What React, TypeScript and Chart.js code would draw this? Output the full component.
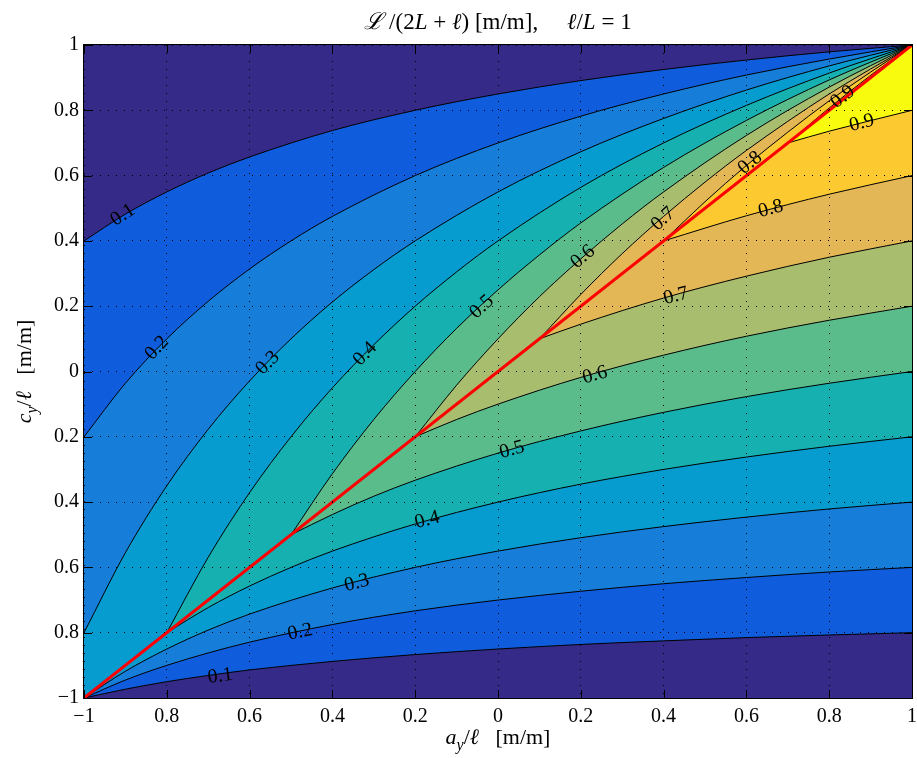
import React, { useEffect, useRef } from 'react';
import { Chart, registerables } from 'chart.js';

Chart.register(...registerables);

const FONT = "'Liberation Serif', 'Times New Roman', 'DejaVu Serif', serif";

// contour levels and band colours (band 0 = below 0.1, band 9 = above 0.9)
const levels = [0.1, 0.2, 0.3, 0.4, 0.5, 0.6, 0.7, 0.8, 0.9];
const levelLabels = ['0.1', '0.2', '0.3', '0.4', '0.5', '0.6', '0.7', '0.8', '0.9'];
const bandColors = ['#352a87', '#0f5cdd', '#167dd9', '#069ccf', '#16b0b0', '#5abb8b', '#a9bd6e', '#e3b755', '#fcc931', '#f9fb0e'];

// tick labels as printed on the reference
const xTickLabels = ['\u22121', '0.8', '0.6', '0.4', '0.2', '0', '0.2', '0.4', '0.6', '0.8', '1'];
const yTickLabels = ['\u22121', '0.8', '0.6', '0.4', '0.2', '0', '0.2', '0.4', '0.6', '0.8', '1'];

// contour lines above the red diagonal  [a_y/l, c_y/l]
const upper01 = [[-1, 0.4], [-0.9, 0.482], [-0.8, 0.55], [-0.7, 0.608], [-0.6, 0.657], [-0.4, 0.738], [-0.2, 0.8], [0, 0.85], [0.2, 0.891], [0.4, 0.925], [0.6, 0.954], [0.8, 0.979], [1, 1]];
const upper02 = [[-1, -0.2], [-0.9, -0.036], [-0.8, 0.1], [-0.7, 0.215], [-0.6, 0.314], [-0.5, 0.4], [-0.4, 0.475], [-0.2, 0.6], [0, 0.7], [0.2, 0.782], [0.4, 0.85], [0.6, 0.908], [0.8, 0.957], [1, 1]];
const upper03 = [[-1, -0.8], [-0.9, -0.555], [-0.8, -0.35], [-0.7, -0.177], [-0.6, -0.029], [-0.5, 0.1], [-0.4, 0.213], [-0.3, 0.312], [-0.2, 0.4], [0, 0.55], [0.2, 0.673], [0.4, 0.775], [0.6, 0.862], [0.8, 0.936], [1, 1]];
const upper04 = [[-0.8, -0.8], [-0.7, -0.569], [-0.6, -0.371], [-0.5, -0.2], [-0.4, -0.05], [-0.3, 0.082], [-0.2, 0.2], [-0.1, 0.305], [0, 0.4], [0.2, 0.564], [0.4, 0.7], [0.6, 0.815], [0.8, 0.914], [1, 1]];
const upper05 = [[-0.5, -0.5], [-0.4, -0.313], [-0.3, -0.147], [-0.2, 0], [-0.1, 0.132], [0, 0.25], [0.1, 0.357], [0.2, 0.455], [0.4, 0.625], [0.6, 0.769], [0.8, 0.893], [1, 1]];
const upper06 = [[-0.2, -0.2], [-0.1, -0.042], [0, 0.1], [0.1, 0.229], [0.2, 0.345], [0.3, 0.452], [0.4, 0.55], [0.6, 0.723], [0.8, 0.871], [1, 1]];
const upper07 = [[0.1, 0.1], [0.2, 0.236], [0.3, 0.361], [0.4, 0.475], [0.5, 0.58], [0.6, 0.677], [0.8, 0.85], [1, 1]];
const upper08 = [[0.4, 0.4], [0.5, 0.52], [0.6, 0.631], [0.7, 0.733], [0.8, 0.829], [0.9, 0.917], [1, 1]];
const upper09 = [[0.7, 0.7], [0.8, 0.807], [0.9, 0.907], [1, 1]];

// contour lines below the red diagonal
const lower01 = [[-1, -1], [-0.9, -0.973], [-0.8, -0.95], [-0.7, -0.931], [-0.6, -0.914], [-0.4, -0.888], [-0.2, -0.867], [0, -0.85], [0.2, -0.836], [0.4, -0.825], [0.6, -0.815], [0.8, -0.807], [1, -0.8]];
const lower02 = [[-1, -1], [-0.9, -0.945], [-0.8, -0.9], [-0.7, -0.862], [-0.6, -0.829], [-0.4, -0.775], [-0.2, -0.733], [0, -0.7], [0.2, -0.673], [0.4, -0.65], [0.6, -0.631], [0.8, -0.614], [1, -0.6]];
const lower03 = [[-1, -1], [-0.9, -0.918], [-0.8, -0.85], [-0.7, -0.792], [-0.6, -0.743], [-0.4, -0.663], [-0.2, -0.6], [0, -0.55], [0.2, -0.509], [0.4, -0.475], [0.6, -0.446], [0.8, -0.421], [1, -0.4]];
const lower04 = [[-0.8, -0.8], [-0.7, -0.723], [-0.6, -0.657], [-0.5, -0.6], [-0.4, -0.55], [-0.2, -0.467], [0, -0.4], [0.2, -0.345], [0.4, -0.3], [0.6, -0.262], [0.8, -0.229], [1, -0.2]];
const lower05 = [[-0.5, -0.5], [-0.4, -0.438], [-0.3, -0.382], [-0.2, -0.333], [0, -0.25], [0.2, -0.182], [0.4, -0.125], [0.6, -0.077], [0.8, -0.036], [1, 0]];
const lower06 = [[-0.2, -0.2], [-0.1, -0.147], [0, -0.1], [0.2, -0.018], [0.4, 0.05], [0.6, 0.108], [0.8, 0.157], [1, 0.2]];
const lower07 = [[0.1, 0.1], [0.2, 0.145], [0.4, 0.225], [0.6, 0.292], [0.8, 0.35], [1, 0.4]];
const lower08 = [[0.4, 0.4], [0.6, 0.477], [0.8, 0.543], [1, 0.6]];
const lower09 = [[0.7, 0.7], [0.8, 0.736], [1, 0.8]];

const diagonal = [[-1, -1], [1, 1]];

// contour label positions
const upperLabelX = [-0.906, -0.824, -0.556, -0.321, -0.039, 0.205, 0.399, 0.609, 0.833];
const upperLabelY = [0.479, 0.072, 0.026, 0.054, 0.198, 0.351, 0.467, 0.639, 0.841];
const lowerLabelX = [-0.671, -0.478, -0.341, -0.171, 0.034, 0.234, 0.43, 0.659, 0.879];
const lowerLabelY = [-0.933, -0.798, -0.648, -0.455, -0.24, -0.011, 0.231, 0.498, 0.761];

const upperCurves = [upper01, upper02, upper03, upper04, upper05, upper06, upper07, upper08, upper09];
const lowerCurves = [lower01, lower02, lower03, lower04, lower05, lower06, lower07, lower08, lower09];

type Seg = { t: string; it?: boolean; sub?: boolean };

const titleSegs: Seg[] = [
  { t: '\u2112', it: true }, { t: ' /(2' }, { t: 'L', it: true }, { t: ' + ' }, { t: '\u2113', it: true },
  { t: ') [m/m],     ' }, { t: '\u2113', it: true }, { t: '/' }, { t: 'L', it: true }, { t: ' = 1' },
];
const xTitleSegs: Seg[] = [{ t: 'a', it: true }, { t: 'y', it: true, sub: true }, { t: '/' }, { t: '\u2113', it: true }, { t: '   [m/m]' }];
const yTitleSegs: Seg[] = [{ t: 'c', it: true }, { t: 'y', it: true, sub: true }, { t: '/' }, { t: '\u2113', it: true }, { t: '   [m/m]' }];

function drawRich(ctx: CanvasRenderingContext2D, segs: Seg[], x: number, y: number, size: number) {
  const fontFor = (s: Seg) => `${s.it ? 'italic ' : ''}${s.sub ? Math.round(size * 0.72) : size}px ${FONT}`;
  let total = 0;
  for (const s of segs) {
    ctx.font = fontFor(s);
    total += ctx.measureText(s.t).width;
  }
  let cx = x - total / 2;
  ctx.textAlign = 'left';
  ctx.textBaseline = 'alphabetic';
  for (const s of segs) {
    ctx.font = fontFor(s);
    ctx.fillText(s.t, cx, y + (s.sub ? size * 0.28 : 0));
    cx += ctx.measureText(s.t).width;
  }
}

const overlayPlugin = {
  id: 'overlay',
  afterDatasetsDraw(chart: any) {
    const ctx: CanvasRenderingContext2D = chart.ctx;
    const xs = chart.scales.x;
    const ys = chart.scales.y;
    ctx.save();
    ctx.fillStyle = '#000';
    ctx.font = `20px ${FONT}`;
    ctx.textAlign = 'center';
    ctx.textBaseline = 'middle';
    const drawLabel = (curve: number[][], lx: number, ly: number, text: string) => {
      const px = xs.getPixelForValue(lx);
      const py = ys.getPixelForValue(ly);
      let i = 0;
      while (i < curve.length - 2 && curve[i + 1][0] < lx) i++;
      const ax = xs.getPixelForValue(curve[i][0]);
      const ay = ys.getPixelForValue(curve[i][1]);
      const bx = xs.getPixelForValue(curve[i + 1][0]);
      const by = ys.getPixelForValue(curve[i + 1][1]);
      const ang = Math.atan2(by - ay, bx - ax);
      ctx.save();
      ctx.translate(px, py);
      ctx.rotate(ang);
      ctx.fillText(text, 0, 0);
      ctx.restore();
    };
    for (let k = 0; k < levels.length; k++) {
      drawLabel(upperCurves[k], upperLabelX[k], upperLabelY[k], levelLabels[k]);
      drawLabel(lowerCurves[k], lowerLabelX[k], lowerLabelY[k], levelLabels[k]);
    }
    ctx.restore();
  },
  afterDraw(chart: any) {
    const ctx: CanvasRenderingContext2D = chart.ctx;
    const { left, right, top, bottom } = chart.chartArea;
    const xs = chart.scales.x;
    const ys = chart.scales.y;
    ctx.save();
    ctx.strokeStyle = '#000';
    ctx.lineWidth = 1;
    ctx.strokeRect(Math.round(left) - 0.5, Math.round(top) - 0.5, Math.round(right - left) + 1, Math.round(bottom - top) + 1);
    const tl = 8;
    ctx.beginPath();
    for (const t of xs.ticks) {
      const px = Math.round(xs.getPixelForValue(t.value)) + 0.5;
      ctx.moveTo(px, bottom);
      ctx.lineTo(px, bottom - tl);
      ctx.moveTo(px, top);
      ctx.lineTo(px, top + tl);
    }
    for (const t of ys.ticks) {
      const py = Math.round(ys.getPixelForValue(t.value)) + 0.5;
      ctx.moveTo(left, py);
      ctx.lineTo(left + tl, py);
      ctx.moveTo(right, py);
      ctx.lineTo(right - tl, py);
    }
    ctx.stroke();
    ctx.fillStyle = '#000';
    const cx = (left + right) / 2;
    drawRich(ctx, titleSegs, cx, 29, 23);
    drawRich(ctx, xTitleSegs, cx, 744, 22);
    ctx.save();
    ctx.translate(31, (top + bottom) / 2);
    ctx.rotate(-Math.PI / 2);
    drawRich(ctx, yTitleSegs, 0, 0, 22);
    ctx.restore();
    ctx.restore();
  },
};

const toPts = (arr: number[][]) => arr.map(([x, y]) => ({ x, y }));

export default function App() {
  const ref = useRef<HTMLCanvasElement>(null);
  useEffect(() => {
    const canvas = ref.current;
    if (!canvas) return;
    const datasets: any[] = [];
    datasets.push({
      data: toPts(diagonal), borderColor: '#ff0000', borderWidth: 3, fill: false, pointRadius: 0, tension: 0,
    });
    for (let k = levels.length - 1; k >= 0; k--) {
      const uIdx = datasets.length;
      datasets.push({
        data: toPts(upperCurves[k]), borderColor: '#000', borderWidth: 1, fill: false, pointRadius: 0,
        cubicInterpolationMode: 'monotone',
      });
      datasets.push({
        data: toPts(lowerCurves[k]), borderColor: '#000', borderWidth: 1, fill: uIdx,
        backgroundColor: bandColors[k + 1], pointRadius: 0, cubicInterpolationMode: 'monotone',
      });
    }
    datasets.push({
      data: [{ x: -1, y: 1 }, { x: 1, y: 1 }], borderWidth: 0, borderColor: 'rgba(0,0,0,0)',
      backgroundColor: bandColors[0], fill: 'start', pointRadius: 0,
    });

    const chart = new Chart(canvas, {
      type: 'line',
      data: { datasets },
      plugins: [overlayPlugin],
      options: {
        animation: false,
        responsive: false,
        devicePixelRatio: 1,
        events: [],
        layout: { padding: { top: 45, right: 5, left: 0, bottom: 0 } },
        plugins: {
          legend: { display: false },
          tooltip: { enabled: false },
          title: { display: false },
          filler: { drawTime: 'beforeDatasetsDraw', propagate: false },
        },
        scales: {
          x: {
            type: 'linear', min: -1, max: 1,
            ticks: {
              stepSize: 0.2, autoSkip: false, maxRotation: 0, color: '#000', padding: 7,
              font: { family: FONT, size: 20 },
              callback: (_v: any, i: number) => xTickLabels[i],
            },
            grid: { color: '#000', lineWidth: 1, drawTicks: false, z: 1 },
            border: { display: false, dash: [1, 7] },
            afterFit: (s: any) => { s.height = 60; s.paddingRight = 0; s.paddingLeft = 0; },
          },
          y: {
            type: 'linear', min: -1, max: 1,
            ticks: {
              stepSize: 0.2, autoSkip: false, color: '#000', padding: 5,
              font: { family: FONT, size: 20 },
              callback: (_v: any, i: number) => yTickLabels[i],
            },
            grid: { color: '#000', lineWidth: 1, drawTicks: false, z: 1 },
            border: { display: false, dash: [1, 7] },
            afterFit: (s: any) => { s.width = 84; s.paddingTop = 0; s.paddingBottom = 0; },
          },
        },
      } as any,
    });
    return () => chart.destroy();
  }, []);
  return (
    <div style={{ position: 'absolute', left: 0, top: 0, width: 917, height: 758, background: '#fff' }}>
      <canvas ref={ref} width={917} height={758} style={{ display: 'block' }} />
    </div>
  );
}
